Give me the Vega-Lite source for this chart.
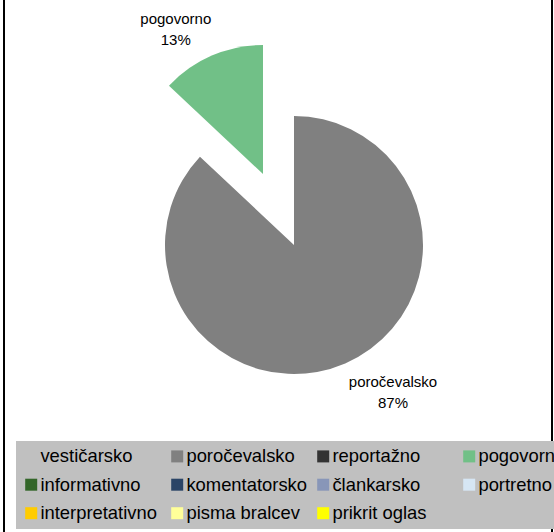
{
  "$schema": "https://vega.github.io/schema/vega-lite/v6.json",
  "width": 548,
  "height": 560,
  "autosize": {"type": "none"},
  "padding": {"left": 4, "top": -5, "right": 2, "bottom": 0},
  "background": "white",
  "config": {
    "view": {"stroke": null},
    "font": "Liberation Sans",
    "legend": {
      "orient": "none",
      "legendX": 12,
      "legendY": 446,
      "direction": "horizontal",
      "columns": 4,
      "gridAlign": "all",
      "fillColor": "#c0c0c0",
      "padding": 6,
      "symbolType": "square",
      "symbolSize": 144,
      "symbolStrokeWidth": 0,
      "labelFontSize": 18.4,
      "labelFont": "Liberation Sans",
      "labelColor": "#000",
      "labelOffset": 0,
      "labelLimit": 0,
      "columnPadding": 6,
      "rowPadding": 9.5
    }
  },
  "data": {
    "values": [
      {"cat": "vestičarsko", "value": 0},
      {"cat": "poročevalsko", "value": 87},
      {"cat": "reportažno", "value": 0},
      {"cat": "pogovorno", "value": 13},
      {"cat": "informativno", "value": 0},
      {"cat": "komentatorsko", "value": 0},
      {"cat": "člankarsko", "value": 0},
      {"cat": "portretno", "value": 0},
      {"cat": "interpretativno", "value": 0},
      {"cat": "pisma bralcev", "value": 0},
      {"cat": "prikrit oglas", "value": 0}
    ]
  },
  "transform": [
    {"stack": "value", "groupby": [], "as": ["v0", "v1"]},
    {"calculate": "(datum.v0 + datum.v1) / 2", "as": "mid"},
    {"calculate": "datum.cat + '\\n' + datum.value + '%'", "as": "label"}
  ],
  "layer": [
    {
      "data": {"values": [{"frame": 1}]},
      "transform": [],
      "mark": {"type": "rect", "fill": "white", "fillOpacity": 0, "stroke": "#000", "strokeWidth": 2},
      "encoding": {}
    },
    {
      "transform": [{"filter": "datum.cat !== 'pogovorno'"}],
      "mark": {"type": "arc", "outerRadius": 129, "xOffset": 16, "yOffset": -30, "strokeWidth": 0},
      "encoding": {
        "theta": {"field": "v0", "type": "quantitative", "scale": {"domain": [0, 100]}},
        "theta2": {"field": "v1"},
        "color": {
          "field": "cat",
          "type": "nominal",
          "title": null,
          "sort": null,
          "scale": {
            "domain": ["vestičarsko", "poročevalsko", "reportažno", "pogovorno", "informativno", "komentatorsko", "člankarsko", "portretno", "interpretativno", "pisma bralcev", "prikrit oglas"],
            "range": ["#c0c0c0", "#808080", "#333333", "#71c087", "#336629", "#2a4466", "#8896b8", "#d6e6f4", "#ffcc00", "#ffff99", "#ffff00"]
          }
        }
      }
    },
    {
      "transform": [{"filter": "datum.cat === 'pogovorno'"}],
      "mark": {"type": "arc", "outerRadius": 129, "xOffset": -15, "yOffset": -101, "strokeWidth": 0},
      "encoding": {
        "theta": {"field": "v0", "type": "quantitative", "scale": {"domain": [0, 100]}},
        "theta2": {"field": "v1"},
        "color": {
          "field": "cat",
          "type": "nominal",
          "title": null,
          "sort": null,
          "scale": {
            "domain": ["vestičarsko", "poročevalsko", "reportažno", "pogovorno", "informativno", "komentatorsko", "člankarsko", "portretno", "interpretativno", "pisma bralcev", "prikrit oglas"],
            "range": ["#c0c0c0", "#808080", "#333333", "#71c087", "#336629", "#2a4466", "#8896b8", "#d6e6f4", "#ffcc00", "#ffff99", "#ffff00"]
          }
        }
      }
    },
    {
      "transform": [{"filter": "datum.cat === 'pogovorno'"}],
      "mark": {"type": "text", "radius": 234.7, "xOffset": 16, "yOffset": -30, "dx": -25, "dy": -10.5, "fontSize": 15, "lineBreak": "\n", "lineHeight": 21, "color": "#000", "align": "center", "baseline": "middle"},
      "encoding": {
        "theta": {"field": "mid", "type": "quantitative", "scale": {"domain": [0, 100]}},
        "text": {"field": "label"}
      }
    },
    {
      "transform": [{"filter": "datum.cat === 'poročevalsko'"}],
      "mark": {"type": "text", "radius": 161.2, "xOffset": 16, "yOffset": -30, "dx": 35, "dy": -10.5, "fontSize": 15, "lineBreak": "\n", "lineHeight": 21, "color": "#000", "align": "center", "baseline": "middle"},
      "encoding": {
        "theta": {"field": "mid", "type": "quantitative", "scale": {"domain": [0, 100]}},
        "text": {"field": "label"}
      }
    }
  ]
}
